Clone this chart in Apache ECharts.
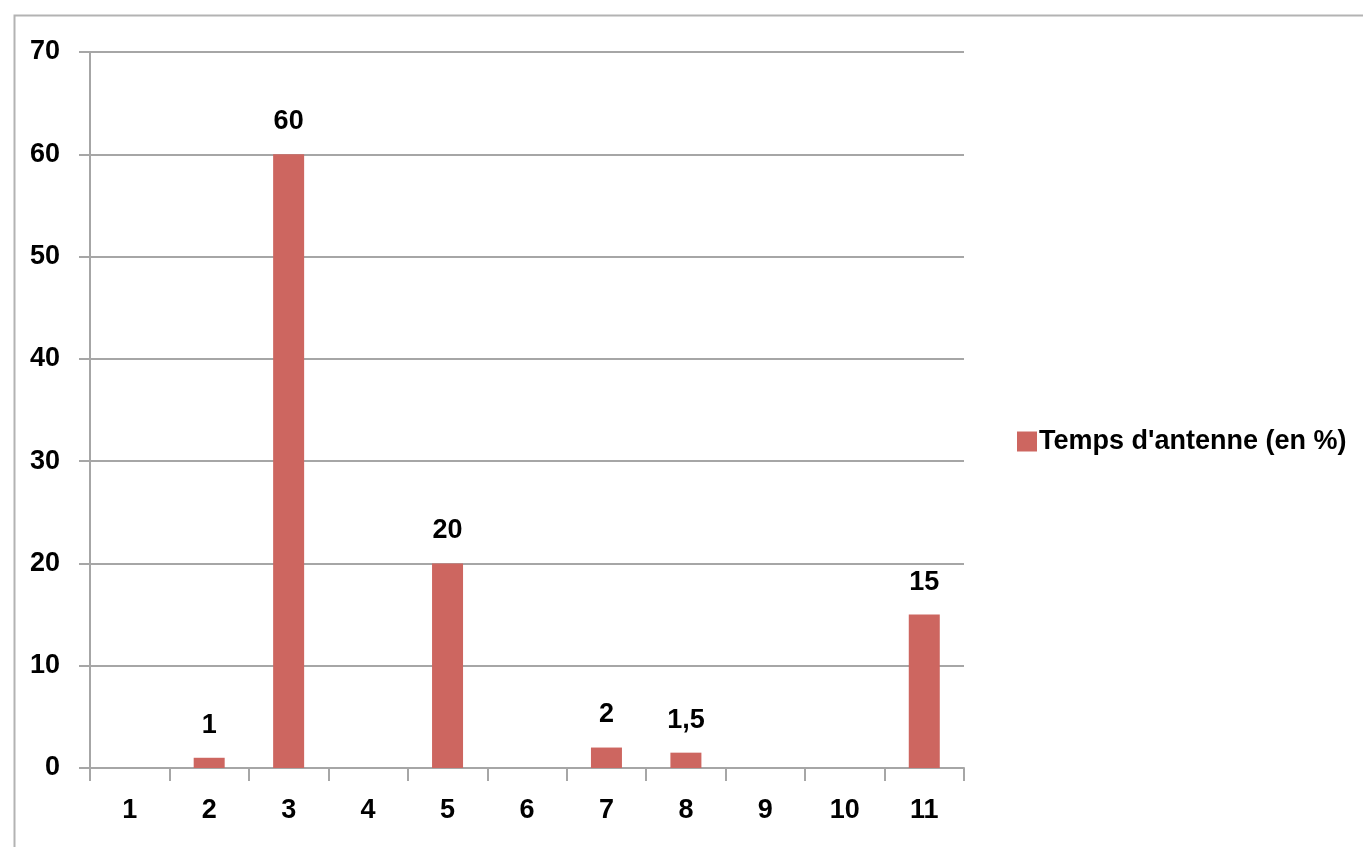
<!DOCTYPE html>
<html>
<head>
<meta charset="utf-8">
<title>Temps d'antenne</title>
<script src="https://cdn.jsdelivr.net/npm/echarts@6/dist/echarts.min.js"></script>
<style>
  html, body { margin: 0; padding: 0; background: #ffffff; }
  #chart { width: 1363px; height: 847px; }
</style>
</head>
<body>
<div id="chart"></div>
<script>
// Categories along the x axis
const categories = ['1', '2', '3', '4', '5', '6', '7', '8', '9', '10', '11'];
// Airtime share per category (percent); null where no bar is drawn
const airtime = [null, 1, 60, null, 20, null, 2, 1.5, null, null, 15];
const seriesName = "Temps d'antenne (en %)";

const FONT = 'Liberation Sans';
const chart = echarts.init(document.getElementById('chart'));

chart.setOption({
  backgroundColor: '#ffffff',
  animation: false,
  textStyle: { fontFamily: FONT },
  graphic: [{
    type: 'rect',
    left: 12, top: 13,
    shape: { width: 1400, height: 900 },
    style: { fill: 'none', stroke: '#b3b3b3', lineWidth: 2 },
    silent: true
  }],
  grid: { left: 90, right: 399, top: 52, bottom: 79, containLabel: false },
  legend: {
    data: [seriesName],
    left: 1012, top: 423,
    icon: 'rect',
    itemWidth: 20, itemHeight: 20, itemGap: 0,
    textStyle: { fontFamily: FONT, fontSize: 27, fontWeight: 'bold', color: '#000', padding: [0, 0, 0, -3] }
  },
  xAxis: {
    type: 'category',
    data: categories,
    axisLine: { show: true, lineStyle: { color: '#a6a6a6', width: 2 } },
    axisTick: { show: true, length: 13, lineStyle: { color: '#a6a6a6', width: 2 } },
    axisLabel: { color: '#000', fontFamily: FONT, fontSize: 27, fontWeight: 'bold', margin: 29 },
    splitLine: { show: false }
  },
  yAxis: {
    type: 'value',
    min: 0, max: 70, interval: 10,
    axisLine: { show: true, lineStyle: { color: '#a6a6a6', width: 2 } },
    axisTick: { show: true, length: 11, lineStyle: { color: '#a6a6a6', width: 2 } },
    axisLabel: { color: '#000', fontFamily: FONT, fontSize: 27, fontWeight: 'bold', margin: 30 },
    splitLine: { show: true, lineStyle: { color: '#a6a6a6', width: 2 } }
  },
  series: [{
    name: seriesName,
    type: 'bar',
    data: airtime,
    barWidth: 31,
    itemStyle: { color: '#cd6660' },
    label: {
      show: true,
      position: 'top',
      distance: 19,
      color: '#000',
      fontFamily: FONT,
      fontSize: 27,
      fontWeight: 'bold',
      formatter: p => String(p.value).replace('.', ',')
    }
  }]
});
</script>
</body>
</html>
